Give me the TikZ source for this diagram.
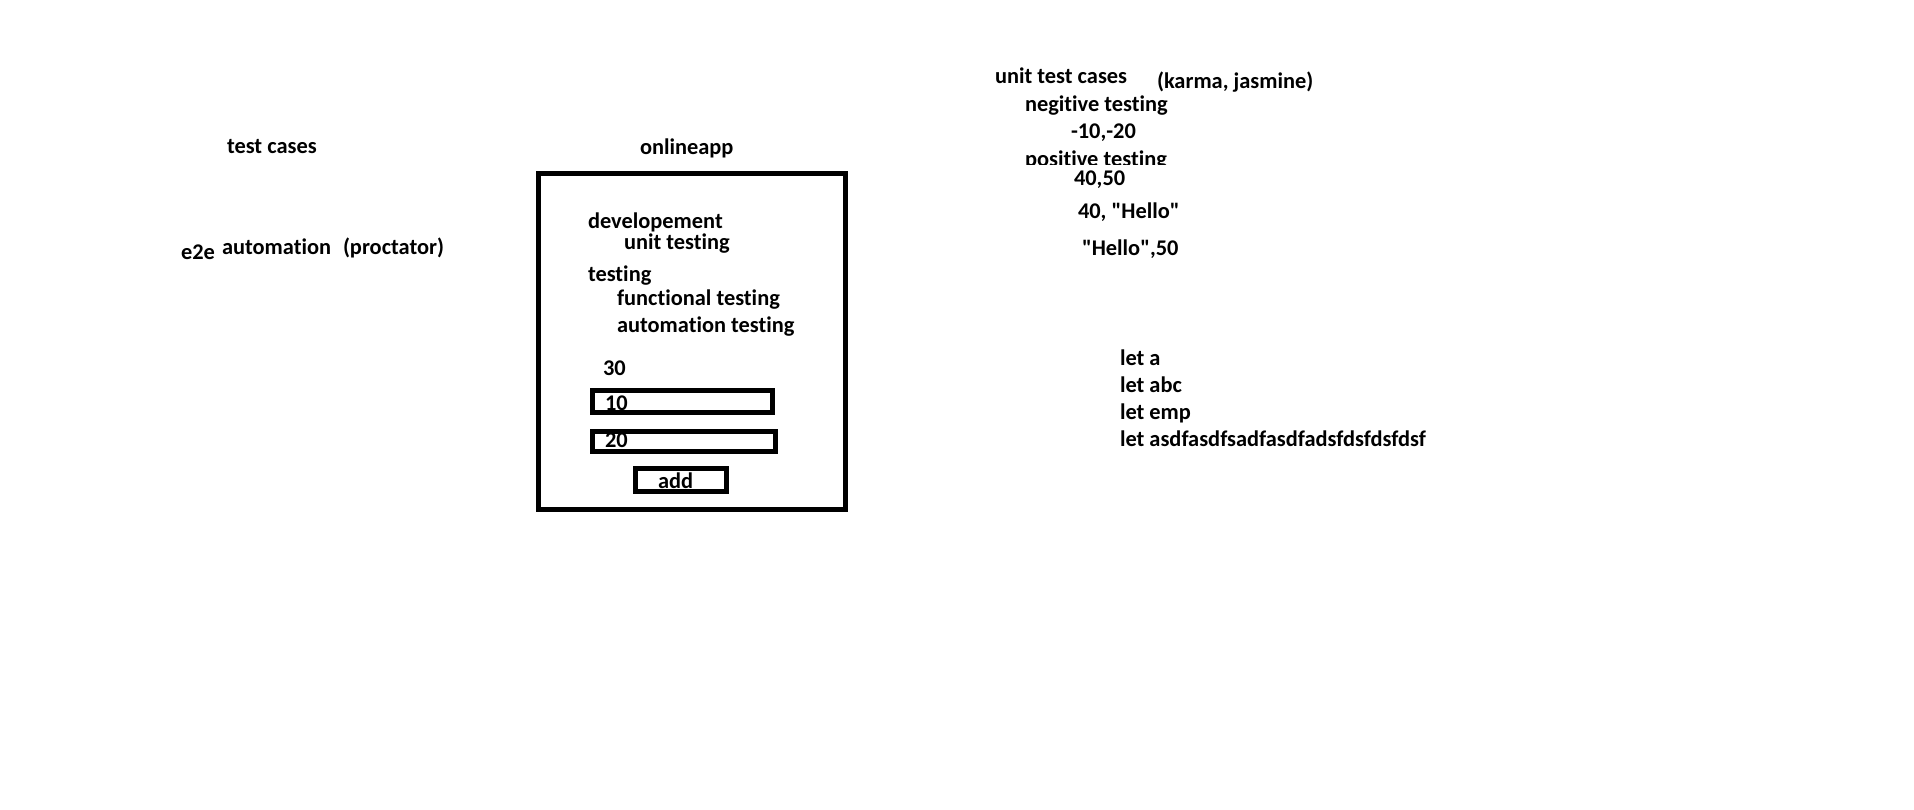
\documentclass[tikz,border=0pt]{standalone}
\usepackage{fontspec}
\newfontfamily\calfont{Carlito}[Ligatures=NoCommon]
\begin{document}
\begin{tikzpicture}[x=1pt,y=-1pt,
  txt/.style={anchor=base west,inner sep=0pt,outer sep=0pt,yshift=-1.2pt,font=\calfont\fontsize{22.4}{26}\selectfont\bfseries,text=black},
  frame/.style={draw=black,line width=5pt}]
\useasboundingbox[fill=white] (0,0) rectangle (1914,809);
% left
\node[txt] (tc) at (227,152) {test cases};
\node[txt] (e2e) at (181,258) {e2e};
\node[txt] (auto) at (222,253) {automation};
\node[txt] (proc) at (343,253) {(proctator)};
% app
\node[txt] (app) at (640,153) {onlineapp};
\draw[frame] (538.5,173.5) rectangle (845.5,509.5);
\node[txt] (dev) at (588,227) {developement};
\node[txt] (unit) at (624,248) {unit testing};
\node[txt] (test) at (588,280) {testing};
\node[txt] (func) at (617,304) {functional testing};
\node[txt] (autot) at (617,331) {automation testing};
\node[txt] (thirty) at (603,374) {30};
\draw[frame] (592.5,390.5) rectangle (772.5,412.5);
\node[txt] (ten) at (605,409) {10};
\draw[frame] (592.5,431.5) rectangle (775.5,451.5);
\node[txt] (twenty) at (605,446) {20};
\draw[frame] (635.5,468.5) rectangle (726.5,491.5);
\node[txt] (add) at (658,487) {add};
% right
\node[txt] (utc) at (995,82) {unit test cases};
\node[txt] (karma) at (1157,87) {(karma, jasmine)};
\node[txt] (neg) at (1025,110) {negitive testing};
\node[txt] (negv) at (1071,137) {-10,-20};
\begin{scope}
\clip (0,0) rectangle (1914,164);
\node[txt] (pos) at (1025,165) {positive testing};
\end{scope}
\node[txt] (p1) at (1074,184) {40,50};
\node[txt] (p2) at (1078,217) {40, "Hello"};
\node[txt] (p3) at (1082,254) {"Hello",50};
\node[txt] (l1) at (1120,364) {let a};
\node[txt] (l2) at (1120,391) {let abc};
\node[txt] (l3) at (1120,418) {let emp};
\node[txt] (l4) at (1120,445) {let asdfasdfsadfasdfadsfdsfdsfdsf};
\end{tikzpicture}
\end{document}
